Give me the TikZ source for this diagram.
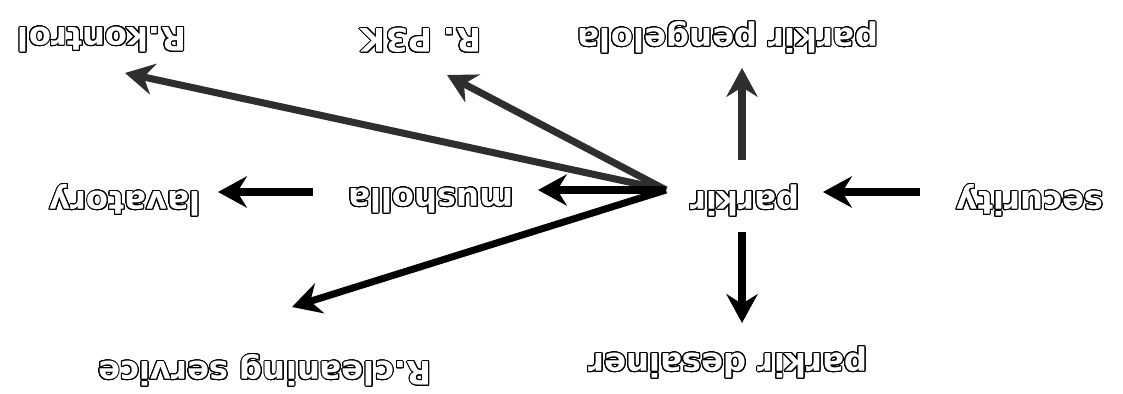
\documentclass[tikz,border=0pt]{standalone}
\usepackage{fontspec}
\setmainfont{DejaVu Sans}
\usepackage[copies]{contour}
\contourlength{0.7pt}
\contournumber{24}
\usetikzlibrary{arrows.meta}

\newcommand\hollow[1]{\contour{black}{\textcolor{white}{\bfseries #1}}}

\begin{document}
\begin{tikzpicture}[x=0.025cm,y=-0.025cm,
  place/.style={rotate=180,inner sep=0pt,font=\fontsize{23}{27}\selectfont\bfseries},
  link/.style={line width=5pt,-{Stealth[length=0.72cm,width=0.78cm,inset=0.24cm]}},
  darklink/.style={link,draw=black!82}]
\useasboundingbox (0,0) rectangle (1123,394);

% labels
\node[place] (parkir)    at (745,200) {\hollow{parkir}};
\node[place] (security)  at (1030,200) {\hollow{security}};
\node[place] (pengelola) at (728,37) {\hollow{parkir pengelola}};
\node[place] (desainer)  at (728,362) {\hollow{parkir desainer}};
\node[place] (musholla)  at (431,200) {\hollow{musholla}};
\node[place] (lavatory)  at (125,200) {\hollow{lavatory}};
\node[place] (kontrol)   at (102,39) {\hollow{R.kontrol}};
\node[place] (ptiga)     at (421,40) {\hollow{R. P3K}};
\node[place] (cleaning)  at (265,370) {\hollow{R.cleaning service}};

% arrow ends
\coordinate (hub) at (666,190);
\coordinate (K) at (125,73);
\coordinate (P) at (447,75);
\coordinate (M) at (538,190);
\coordinate (C) at (292,307);
\coordinate (G) at (742,68);
\coordinate (U) at (742,160);
\coordinate (D1) at (742,232);
\coordinate (D2) at (742,323);
\coordinate (S1) at (920,192);
\coordinate (S2) at (823,192);
\coordinate (L1) at (313,192);
\coordinate (L2) at (218,192);

\draw[darklink] (hub) -- (K);
\draw[darklink] (hub) -- (P);
\draw[darklink] (U) -- (G);
\draw[link] (hub) -- (M);
\draw[link] (hub) -- (C);
\draw[link] (D1) -- (D2);
\draw[link] (S1) -- (S2);
\draw[link] (L1) -- (L2);

\end{tikzpicture}
\end{document}
